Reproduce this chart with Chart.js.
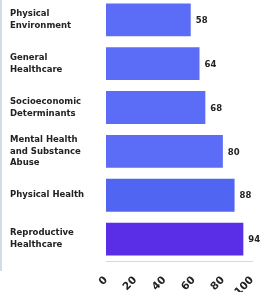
<!DOCTYPE html>
<html>
<head>
<meta charset="utf-8">
<script src="https://cdn.jsdelivr.net/npm/chart.js@4.4.1/dist/chart.umd.min.js"></script>
<style>
  html, body { margin: 0; padding: 0; background: #ffffff; overflow: hidden; }
  #wrap { position: absolute; left: 0; top: -17px; width: 266px; height: 309px; }
  #edge { position: absolute; left: 0; top: 0; width: 2px; height: 271px; background: #d3dde9; }
</style>
</head>
<body>
<div id="wrap"><canvas id="c" width="266" height="309"></canvas></div>
<div id="edge"></div>
<script>
const categories = [
  ["Physical", "Environment"],
  ["General", "Healthcare"],
  ["Socioeconomic", "Determinants"],
  ["Mental Health", "and Substance", "Abuse"],
  "Physical Health",
  ["Reproductive", "Healthcare"]
];
const values = [58, 64, 68, 80, 88, 94];
const barColors = ["#5b6cf6", "#5b6cf6", "#5b6cf6", "#5b6cf6", "#5066f3", "#5a2de6"];
const xTicks = [0, 20, 40, 60, 80, 100];

const FONT = "'DejaVu Sans', sans-serif";

const valueLabels = {
  id: 'valueLabels',
  afterDatasetsDraw(chart) {
    const ctx = chart.ctx;
    const meta = chart.getDatasetMeta(0);
    ctx.save();
    ctx.font = "bold 8.5px " + FONT;
    ctx.fillStyle = "#222222";
    ctx.textAlign = "left";
    ctx.textBaseline = "middle";
    meta.data.forEach((bar, i) => {
      ctx.fillText(String(chart.data.datasets[0].data[i]), bar.x + 5, bar.y + 1);
    });
    ctx.restore();
  }
};

new Chart(document.getElementById('c'), {
  type: 'bar',
  data: {
    labels: categories,
    datasets: [{
      data: values,
      backgroundColor: barColors,
      borderWidth: 0,
      barPercentage: 1,
      categoryPercentage: 0.75
    }]
  },
  options: {
    indexAxis: 'y',
    responsive: false,
    animation: false,
    layout: { padding: { left: 10, right: 12, top: 0, bottom: 0 } },
    plugins: { legend: { display: false }, tooltip: { enabled: false } },
    scales: {
      y: {
        grid: { display: false },
        border: { display: false },
        ticks: {
          crossAlign: 'far',
          color: '#222222',
          font: { family: FONT, size: 8.5, weight: 'bold', lineHeight: 1.4 }
        },
        afterFit(scale) { scale.width = 96; }
      },
      x: {
        min: 0,
        max: 100,
        grid: { display: false },
        border: { display: true, color: '#d8d8d8', width: 1 },
        afterBuildTicks(scale) { scale.ticks = xTicks.map(v => ({ value: v })); },
        ticks: {
          minRotation: 45,
          maxRotation: 45,
          padding: 5,
          color: '#222222',
          font: { family: FONT, size: 10.5, weight: 'bold' }
        },
        afterFit(scale) { scale.height = 31; }
      }
    }
  },
  plugins: [valueLabels]
});
</script>
</body>
</html>
